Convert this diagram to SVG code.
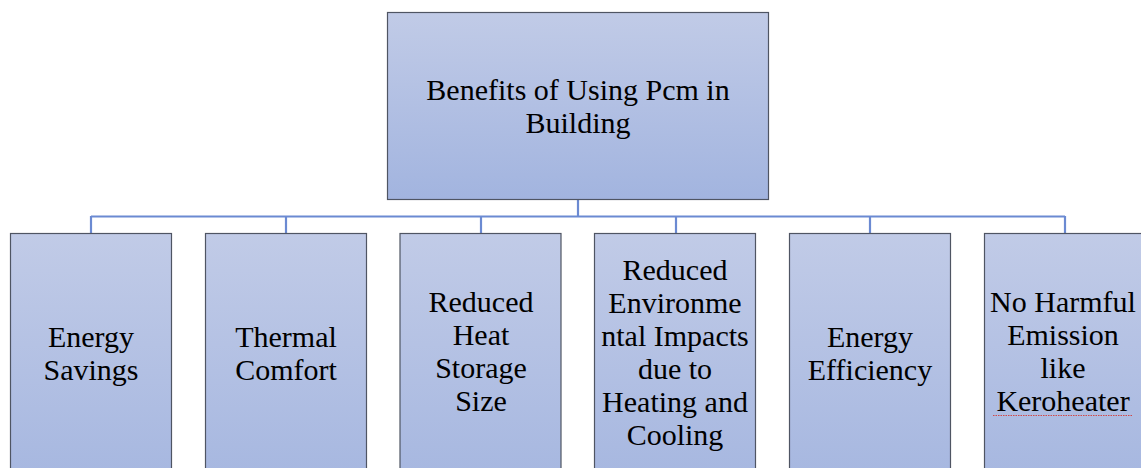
<svg xmlns="http://www.w3.org/2000/svg" width="1141" height="468" viewBox="0 0 1141 468" font-family="Times New Roman, Liberation Serif, Tinos, serif">
<defs>
<linearGradient id="g" x1="0" y1="0" x2="0" y2="1">
<stop offset="0" stop-color="#c1cbe7"/>
<stop offset="1" stop-color="#a2b4df"/>
</linearGradient>
<linearGradient id="g2" x1="0" y1="233" x2="0" y2="520" gradientUnits="userSpaceOnUse">
<stop offset="0" stop-color="#c1cbe7"/>
<stop offset="1" stop-color="#a2b4df"/>
</linearGradient>
</defs>
<style>
.box{fill:url(#g);stroke:#4f5563;stroke-width:1.2}
.cbox{fill:url(#g2);stroke:#4f5563;stroke-width:1.2}
.c{fill:none;stroke:#6b8ad2;stroke-width:2.2}
text{font-family:'Times New Roman','Liberation Serif',Tinos,serif;font-size:30px;text-anchor:middle;fill:#000}
</style>
<rect width="1141" height="468" fill="#fff"/>
<g id="connectors">
<path class="c" d="M578,199 V216.5 M91,216.5 H1065 M91,216 V233 M286,216 V233 M481,216 V233 M676,216 V233 M870,216 V233 M1065,216 V233"/>
</g>
<g id="root">
<rect class="box" x="387.5" y="12.5" width="381" height="187"/>
<text x="578" y="100">Benefits of Using Pcm in</text>
<text x="578" y="133">Building</text>
</g>
<g id="n1">
<rect class="cbox" x="10.5" y="233.5" width="161" height="250"/>
<text x="91" y="347">Energy</text>
<text x="91" y="380">Savings</text>
</g>
<g id="n2">
<rect class="cbox" x="205.5" y="233.5" width="161" height="250"/>
<text x="286" y="347">Thermal</text>
<text x="286" y="380">Comfort</text>
</g>
<g id="n3">
<rect class="cbox" x="400" y="233.5" width="161" height="250"/>
<text x="481" y="312">Reduced</text>
<text x="481" y="345">Heat</text>
<text x="481" y="378">Storage</text>
<text x="481" y="411">Size</text>
</g>
<g id="n4">
<rect class="cbox" x="594.5" y="233.5" width="161" height="250"/>
<text x="675" y="280">Reduced</text>
<text x="675" y="313">Environme</text>
<text x="675" y="346">ntal Impacts</text>
<text x="675" y="379">due to</text>
<text x="675" y="412">Heating and</text>
<text x="675" y="445">Cooling</text>
</g>
<g id="n5">
<rect class="cbox" x="789.5" y="233.5" width="161" height="250"/>
<text x="870" y="347">Energy</text>
<text x="870" y="380">Efficiency</text>
</g>
<g id="n6">
<rect class="cbox" x="984.5" y="233.5" width="161" height="250"/>
<text x="1063" y="312">No Harmful</text>
<text x="1063" y="345">Emission</text>
<text x="1063" y="378">like</text>
<text x="1063" y="411">Keroheater</text>
<path d="M993,415.5 H1133" fill="none" stroke="#d04848" stroke-width="1.2" stroke-dasharray="1.5 1"/>
</g>
</svg>
